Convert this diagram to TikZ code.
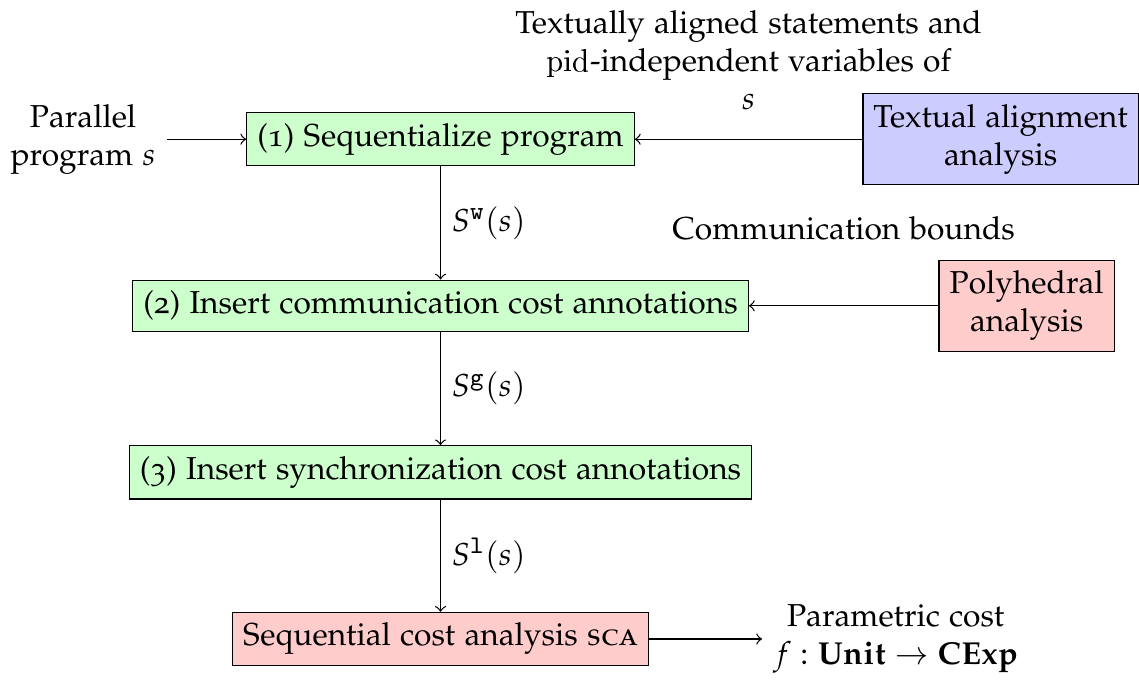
\documentclass[tikz,border=0pt]{standalone}
\usepackage[T1]{fontenc}
\usepackage[osf]{mathpazo}
\renewcommand{\ttdefault}{lmtt}
\usepackage{amsmath,amssymb}
\usetikzlibrary{positioning}
\tikzset{>=to}

\begin{document}
\begin{tikzpicture}[
            stage/.style={rectangle,draw,fill=green!20},
            tool/.style={rectangle,draw,align=center},
            flow/.style={draw,->}
            ]
            \node[stage] (seq) at (0,0) {(1) Sequentialize program};
            \node[stage] (comm) at (0,-1.846) {(2) Insert communication cost annotations};
            \node[stage] (sync) at (0,-3.692) {(3) Insert synchronization cost annotations};
            \node[stage,fill=red!20] (sca) at (0,-5.538) {Sequential cost analysis \textsc{sca}};
            \node[align=center,left=0.88cm of seq] (par) {Parallel\\program $s$};
            \node[tool,fill=blue!20,right=2.52cm of seq] (tam) {Textual alignment\\analysis};
            \node[tool,fill=red!20,right=2.1cm of comm] (poly) {Polyhedral\\analysis};
            \node[align=center,right=1.25cm of sca] (cost) {Parametric cost\\$f : \mathbf{Unit} \rightarrow \mathbf{CExp}$};
            \draw[flow] (par) -- (seq);
            \draw[flow] (tam) -- node[above=2mm,align=center] {Textually aligned statements and\\\texttt{pid}-independent variables of\\$s$} (seq);
            \draw[flow] (poly) -- node[above=6mm] {Communication bounds} (comm);
            \draw[flow] (seq) -- node[right] {$S^{\mathtt{w}}(s)$} (comm);
            \draw[flow] (comm) -- node[right] {$S^{\mathtt{g}}(s)$} (sync);
            \draw[flow] (sync) -- node[right] {$S^{\mathtt{l}}(s)$} (sca);
            \draw[flow] (sca) -- (cost);
\end{tikzpicture}
\end{document}
